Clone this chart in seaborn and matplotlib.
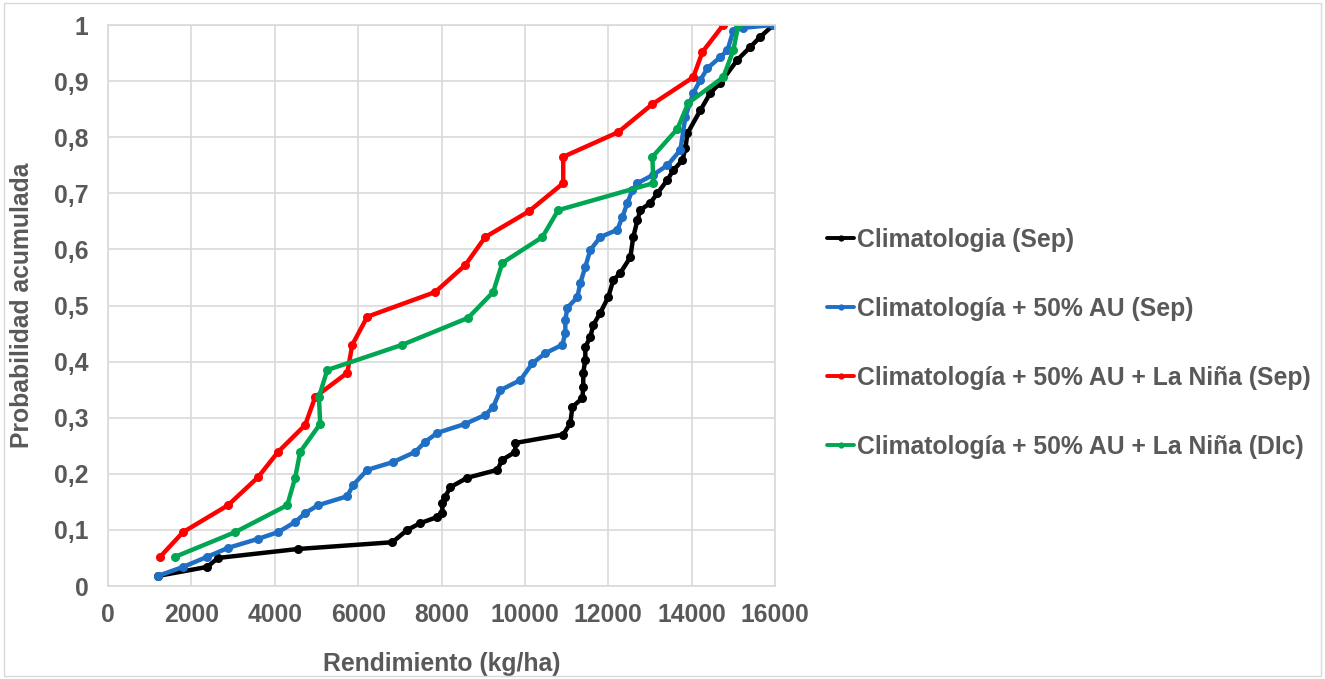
import numpy as np
import pandas as pd
import matplotlib
matplotlib.use("Agg")
import matplotlib.pyplot as plt
import seaborn as sns
from matplotlib.patches import Rectangle

# ---- data ----
series_names = [
    "Climatologia (Sep)",
    "Climatología + 50% AU (Sep)",
    "Climatología + 50% AU + La Niña (Sep)",
    "Climatología + 50% AU + La Niña (DIc)",
]
series_colors = ["#000000", "#1f6fc5", "#ff0000", "#00a651"]

black_x = [1200, 2380, 2640, 4560, 6820, 7180, 7490, 7900, 8020, 8020, 8090, 8210, 8620, 9340, 9460,
           9770, 9770, 10920, 11090, 11140, 11380, 11400, 11400, 11450, 11450, 11570, 11640, 11810,
           12000, 12120, 12290, 12530, 12600, 12700, 12770, 13010, 13180, 13420, 13560, 13780, 13850,
           13900, 14210, 14450, 14690, 15100, 15410, 15650, 15960]
black_y = [0.018, 0.034, 0.050, 0.066, 0.078, 0.100, 0.112, 0.123, 0.130, 0.148, 0.159, 0.176, 0.193,
           0.207, 0.225, 0.239, 0.255, 0.270, 0.290, 0.319, 0.335, 0.355, 0.380, 0.403, 0.426, 0.444,
           0.465, 0.487, 0.515, 0.545, 0.558, 0.586, 0.622, 0.652, 0.670, 0.683, 0.700, 0.724, 0.741,
           0.759, 0.780, 0.807, 0.848, 0.879, 0.897, 0.938, 0.961, 0.979, 1.0]

blue_x = [1200, 1800, 2380, 2880, 3600, 4080, 4490, 4730, 5040, 5740, 5880, 6220, 6840, 7370, 7610,
          7900, 8570, 9050, 9240, 9410, 9890, 10180, 10490, 10900, 10970, 10970, 11020, 11260, 11330,
          11450, 11570, 11810, 12220, 12340, 12460, 12580, 12700, 13080, 13420, 13730, 13850, 14040,
          14210, 14380, 14690, 14860, 15000, 15240, 15960]
blue_y = [0.018, 0.034, 0.052, 0.068, 0.084, 0.096, 0.114, 0.130, 0.144, 0.160, 0.180, 0.207, 0.221,
          0.239, 0.257, 0.273, 0.289, 0.305, 0.319, 0.349, 0.367, 0.397, 0.415, 0.430, 0.451, 0.474,
          0.496, 0.515, 0.540, 0.569, 0.599, 0.622, 0.635, 0.658, 0.683, 0.706, 0.718, 0.733, 0.750,
          0.777, 0.836, 0.879, 0.902, 0.923, 0.943, 0.955, 0.990, 0.995, 1.0]

red_x = [1250, 1800, 2880, 3600, 4080, 4730, 4970, 5740, 5860, 6220, 7850, 8570, 9050, 10100, 10920,
         10920, 12240, 13060, 14040, 14260, 14760]
red_y = [0.052, 0.096, 0.144, 0.194, 0.239, 0.287, 0.337, 0.380, 0.430, 0.480, 0.524, 0.572, 0.622,
         0.668, 0.718, 0.765, 0.809, 0.859, 0.907, 0.952, 1.0]

green_x = [1610, 3050, 4300, 4490, 4610, 5090, 5060, 5260, 7060, 8640, 9240, 9460, 10420, 10800,
           13080, 13060, 13660, 13920, 14760, 15000, 15120]
green_y = [0.052, 0.096, 0.144, 0.193, 0.239, 0.289, 0.337, 0.385, 0.430, 0.478, 0.524, 0.576, 0.622,
           0.670, 0.718, 0.765, 0.815, 0.861, 0.907, 0.955, 1.0]

x_ticks = [0, 2000, 4000, 6000, 8000, 10000, 12000, 14000, 16000]
y_ticks = [0, 0.1, 0.2, 0.3, 0.4, 0.5, 0.6, 0.7, 0.8, 0.9, 1.0]
y_tick_labels = ["0", "0,1", "0,2", "0,3", "0,4", "0,5", "0,6", "0,7", "0,8", "0,9", "1"]

frames = []
for name, xs, ys in zip(series_names, [black_x, blue_x, red_x, green_x], [black_y, blue_y, red_y, green_y]):
    frames.append(pd.DataFrame({"x": xs, "y": ys, "serie": name, "order": np.arange(len(xs))}))
df = pd.concat(frames, ignore_index=True)

# ---- styling ----
sns.set_theme(style="white")
plt.rcParams["font.family"] = ["Liberation Sans", "DejaVu Sans"]
txt_color = "#595959"
fs = 17.8

fig = plt.figure(figsize=(13.25, 6.79), dpi=100)
ax = fig.add_axes([108 / 1325, 1 - 586 / 679, (775 - 108) / 1325, (586 - 25) / 679])

sns.lineplot(data=df, x="x", y="y", hue="serie", palette=series_colors, hue_order=series_names,
             sort=False, estimator=None, units="serie", marker="o", markersize=6.5,
             markeredgewidth=0, linewidth=3.2, legend=False, ax=ax)

ax.set_xlim(0, 16000)
ax.set_ylim(0, 1)
ax.set_xticks(x_ticks)
ax.set_xticklabels([str(v) for v in x_ticks])
ax.set_yticks(y_ticks)
ax.set_yticklabels(y_tick_labels)
ax.grid(True, color="#d9d9d9", linewidth=1.2)
ax.set_axisbelow(True)
for s in ax.spines.values():
    s.set_color("#d9d9d9")
    s.set_linewidth(1.2)
ax.tick_params(axis="both", length=0, labelsize=fs, labelcolor=txt_color)
ax.tick_params(axis="x", pad=12)
ax.tick_params(axis="y", pad=14)
for lab in ax.get_xticklabels() + ax.get_yticklabels():
    lab.set_fontweight("bold")

ax.set_xlabel("Rendimiento (kg/ha)", fontsize=fs, fontweight="bold", color=txt_color, labelpad=18)
ax.set_ylabel("Probabilidad acumulada", fontsize=fs, fontweight="bold", color=txt_color, labelpad=14)

handles = ax.get_lines()[:4]
leg = fig.legend(handles, series_names, loc="upper left", bbox_to_anchor=(827 / 1325, 1 - 228 / 679),
                 frameon=False, fontsize=fs, handlelength=1.1, handletextpad=0.1, labelspacing=1.82,
                 borderaxespad=0, borderpad=0)
for t in leg.get_texts():
    t.set_color(txt_color)
    t.set_fontweight("bold")
for h in leg.legend_handles:
    h.set_markersize(4.5)
    h.set_linewidth(2.8)

fig.patches.append(Rectangle((4 / 1325, 3 / 679), 1 - 8 / 1325, 1 - 6 / 679, transform=fig.transFigure,
                             fill=False, edgecolor="#d9d9d9", linewidth=1))

fig.savefig("out.png", dpi=100, facecolor="white")
